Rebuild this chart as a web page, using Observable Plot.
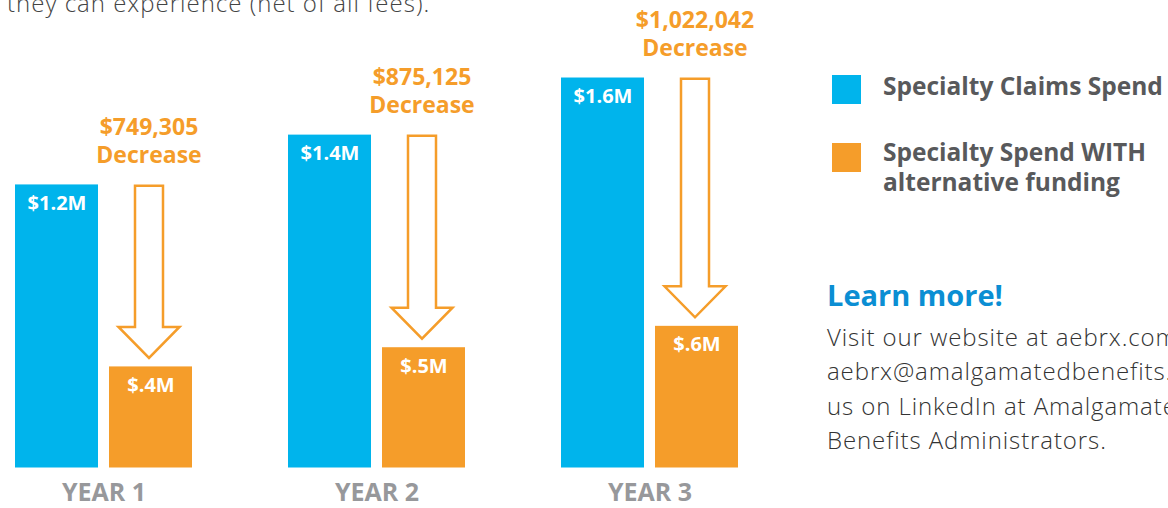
<!DOCTYPE html>
<html>
<head>
<meta charset="utf-8">
<script src="https://cdn.jsdelivr.net/npm/d3@7"></script>
<script src="https://cdn.jsdelivr.net/npm/@observablehq/plot@0.6"></script>
<style>
  html, body { margin: 0; padding: 0; background: #fff; }
  body { width: 1168px; height: 508px; overflow: hidden; position: relative; font-family: "Open Sans", sans-serif; }
  #chart { position: absolute; left: 0; top: 0; }
  .abs { position: absolute; white-space: nowrap; }
  #intro { left: 7px; top: -13.6px; font-size: 24px; letter-spacing: 1px; font-weight: 300; color: #444; line-height: normal; }
  .sw { position: absolute; width: 29px; height: 29px; }
  .leg { position: absolute; left: 883px; font-size: 24.5px; font-weight: 700; color: #58595b; line-height: 30px; white-space: nowrap; }
  #learn { left: 827px; top: 275px; font-size: 29px; font-weight: 700; color: #0b8ed3; line-height: normal; }
  #body { left: 827px; top: 319.5px; font-size: 24px; letter-spacing: 0.9px; font-weight: 300; color: #333; line-height: 34.5px; }
</style>
</head>
<body>
<div id="chart"></div>
<div id="intro" class="abs">they can experience (net of all fees).</div>
<div class="sw" style="left:832px;top:75px;background:#00b4ec"></div>
<div class="leg" style="top:70.6px">Specialty Claims Spend</div>
<div class="sw" style="left:832px;top:143px;background:#f59d2a"></div>
<div class="leg" style="top:137.3px">Specialty Spend WITH<br>alternative funding</div>
<div id="learn" class="abs">Learn more!</div>
<div id="body" class="abs">Visit our website at aebrx.com, email<br>aebrx@amalgamatedbenefits.com, or follow<br>us on LinkedIn at Amalgamated<br>Benefits Administrators.</div>
<script>
const years = ["YEAR 1", "YEAR 2", "YEAR 3"];
const claimsSpend = [1.165, 1.370, 1.605];      // $M, Specialty Claims Spend
const altFundingSpend = [0.416, 0.495, 0.583];  // $M, with alternative funding
const claimsLabels = ["$1.2M", "$1.4M", "$1.6M"];
const altLabels = ["$.4M", "$.5M", "$.6M"];
const decreaseLabels = ["$749,305", "$875,125", "$1,022,042"];

const BLUE = "#00b4ec", ORANGE = "#f59d2a";
const FONT = "Open Sans";

const claims = years.map((year, i) => ({year, value: claimsSpend[i], label: claimsLabels[i]}));
const alt = years.map((year, i) => ({year, value: altFundingSpend[i], label: altLabels[i], dec: decreaseLabels[i], top: claimsSpend[i]}));

const plot = Plot.plot({
  width: 800,
  height: 508,
  marginLeft: 14,
  marginRight: 60,
  marginTop: 0,
  marginBottom: 40.5,
  x: {domain: years, paddingInner: 0.35, paddingOuter: 0, axis: null},
  y: {domain: [0, 1.924], axis: null},
  marks: [
    Plot.barY(claims, {x: "year", y: "value", fill: BLUE, insetRight: 94}),
    Plot.barY(alt, {x: "year", y: "value", fill: ORANGE, insetLeft: 94}),
    Plot.text(claims, {x: "year", y: "value", text: "label", dx: -47, dy: 18.6, fill: "white", fontSize: 20, fontWeight: "bold", fontFamily: FONT}),
    Plot.text(alt, {x: "year", y: "value", text: "label", dx: 47, dy: 18.6, fill: "white", fontSize: 20, fontWeight: "bold", fontFamily: FONT}),
    Plot.text(alt, {x: "year", y: "top", text: "dec", dx: 45, dy: -57.6, fill: ORANGE, fontSize: 23, fontWeight: "bold", fontFamily: FONT}),
    Plot.text(alt, {x: "year", y: "top", text: () => "Decrease", dx: 45, dy: -29.2, fill: ORANGE, fontSize: 23, fontWeight: "bold", fontFamily: FONT}),
    Plot.text(years, {x: d => d, frameAnchor: "bottom", lineAnchor: "middle", dy: 24.5, fill: "#97989b", fontSize: 25, fontWeight: "bold", fontFamily: FONT})
  ]
});

// Hollow down-arrows, positioned through the plot's own scales
const xs = plot.scale("x"), ys = plot.scale("y");
const g = d3.select(plot).append("g").attr("aria-label", "arrows");
alt.forEach(d => {
  const cx = xs.apply(d.year) + xs.bandwidth / 2 + 45.5;
  const top = ys.apply(d.top) + 1.25;
  const tip = ys.apply(d.value) - 8.5;
  const headTop = tip - 31;
  const sw = 14, hw = 30.5;
  const path = `M${cx - sw},${top}L${cx + sw},${top}L${cx + sw},${headTop}L${cx + hw},${headTop}L${cx},${tip}L${cx - hw},${headTop}L${cx - sw},${headTop}Z`;
  g.append("path").attr("d", path).attr("fill", "white").attr("stroke", ORANGE).attr("stroke-width", 2.5);
});

document.getElementById("chart").appendChild(plot);
</script>
</body>
</html>
